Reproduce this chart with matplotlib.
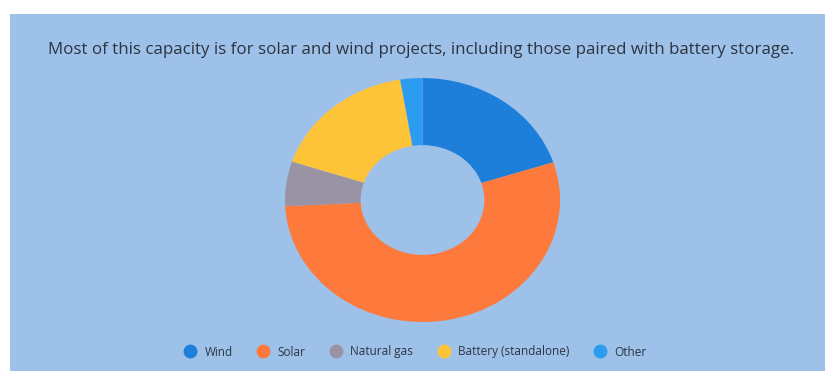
import matplotlib.pyplot as plt
from matplotlib.lines import Line2D

# Share of capacity by technology (percent)
labels = ["Wind", "Solar", "Natural gas", "Battery (standalone)", "Other"]
shares = [20.0, 54.2, 5.9, 17.3, 2.6]
colors = ["#1e7fda", "#fd7a3c", "#9a93a6", "#fdc43a", "#2b9cf0"]

title = "Most of this capacity is for solar and wind projects, including those paired with battery storage."

plt.rcParams['font.family'] = ['Open Sans', 'DejaVu Sans']

fig = plt.figure(figsize=(8.25, 3.71), dpi=100)
fig.patch.set_facecolor("white")

# light blue panel behind everything
bg = fig.add_axes([10 / 825, 0, 1 - 10 / 825, 1 - 14 / 371], zorder=0)
bg.set_facecolor("#9ec1e9")
bg.set_xticks([])
bg.set_yticks([])
for s in bg.spines.values():
    s.set_visible(False)

fig.text(0.51, 1 - 50 / 371, title, ha="center", va="center",
         fontsize=12.2, color="#2c3540", zorder=5)

ax = fig.add_axes([0.3455, 0.132, 0.3333, 0.6577], zorder=2)
ax.pie(shares, colors=colors, startangle=90, counterclock=False, radius=1,
       wedgeprops=dict(width=0.55, edgecolor="none"))
ax.set_aspect("auto")
ax.set_xlim(-1, 1)
ax.set_ylim(-1, 1)
ax.axis("off")

handles = [Line2D([], [], marker="o", linestyle="none", markersize=10,
                  markerfacecolor=c, markeredgecolor="none") for c in colors]
leg = fig.legend(handles, labels, loc="center", bbox_to_anchor=(0.5, 1 - 352 / 371),
                 ncol=5, frameon=False, fontsize=8.5, handletextpad=0.2,
                 columnspacing=1.6, labelcolor="#2c3540")
leg.set_zorder(5)

fig.savefig("out.png", dpi=100, facecolor=fig.get_facecolor())
